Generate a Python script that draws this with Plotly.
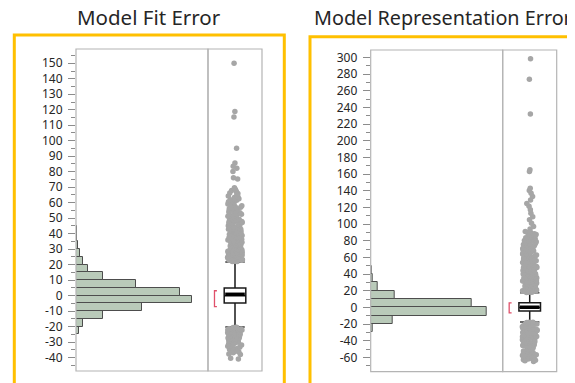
import plotly.graph_objects as go

# page body has an 8px margin; figure is sized/positioned to compensate
OFF = 8
W, H = 575 - OFF, 383 - OFF

# ---------------- data: Model Fit Error ----------------
fit_title = "Model Fit Error"
fit_bin_centers = [-27.5, -22.5, -17.5, -12.5, -7.5, -2.5, 2.5, 7.5, 12.5, 17.5, 22.5, 27.5, 32.5, 37.5, 42.5]
fit_counts = [2, 15, 37, 137, 328, 580, 522, 300, 137, 62, 37, 20, 12, 6, 3]
fit_q1, fit_median, fit_q3 = -4.7, 0.0, 5.0
fit_lower_whisker, fit_upper_whisker = -20.2, 21.7
fit_mean = 0.9
fit_shortest_half = [3.2, -7.1]
fit_outliers = [
    22.0, 22.2, 22.4, 22.6, 22.8, 23.0, 23.2, 23.4, 23.7, 23.9, 24.1, 24.3, 24.6, 24.8, 25.0, 25.3,
    25.5, 25.8, 26.0, 26.3, 26.5, 26.8, 27.0, 27.3, 27.6, 27.8, 28.1, 28.4, 28.7, 29.0, 29.3, 29.6,
    29.9, 30.2, 30.5, 30.8, 31.1, 31.4, 31.8, 32.1, 32.4, 32.8, 33.1, 33.5, 33.8, 34.2, 34.5, 34.9,
    35.3, 35.6, 36.0, 36.4, 36.8, 37.2, 37.6, 38.0, 38.4, 38.8, 39.2, 39.7, 40.1, 40.5, 41.0, 41.4,
    41.9, 42.3, 42.8, 43.2, 43.7, 44.2, 44.7, 45.2, 45.7, 46.2, 46.7, 47.2, 47.8, 48.3, 48.9, 49.4,
    50.0, 50.6, 51.2, 51.8, 52.4, 53.0, 53.6, 54.3, 54.9, 55.6, 56.3, 57.0, 57.7, 58.4, 59.2, 60.0,
    60.8, 61.6, 62.5, 63.4, 64.3, 65.3, 66.3, 67.3, 68.5, 69.7, 75.3, 76.1, 80.2, 82.3, 83.5, 85.6,
    95.2, 115.3, 118.8, 150.0,
    22.1, 22.5, 22.9, 23.3, 23.8, 24.2, 24.7, 25.1, 25.6, 26.1, 26.6, 27.1, 27.5, 28.0, 28.5, 29.1,
    29.6, 30.1, 30.6, 31.2, 31.7, 32.3, 32.9, 33.4, 34.0, 34.6, 35.2, 35.8, 36.5, 37.1, 37.8, 38.5,
    39.1, 39.9, 40.6, 41.3, 42.1, 42.9, 43.6, 44.5, 45.3, 46.1, 47.0, 47.9, 48.8, 49.7, 50.7, 51.6,
    52.6, 53.7, 54.7, 55.8, 56.9, 58.1, 59.4, 60.6, 61.9, 63.8, 65.9, 67.9,
    -20.4, -20.6, -20.9, -21.1, -21.4, -21.6, -21.9, -22.2, -22.4, -22.7, -23.0, -23.3, -23.6, -23.9,
    -24.2, -24.6, -24.9, -25.3, -25.6, -26.0, -26.4, -26.8, -27.2, -27.6, -28.1, -28.5, -29.0, -29.5,
    -30.0, -30.6, -31.2, -31.8, -32.5, -33.2, -34.0, -34.8, -35.4, -36.0, -36.8, -37.6, -40.3, -40.8,
    -20.5, -21.0, -21.5, -22.1, -22.6, -23.2, -23.8, -24.4, -25.1, -25.8, -26.5, -27.3, -28.0, -28.8,
    -29.7, -30.5, -31.5, -32.6, -33.9, -35.1, -36.4, -37.9,
]
fit_tick_values = [-40, -30, -20, -10, 0, 10, 20, 30, 40, 50, 60, 70, 80, 90, 100, 110, 120, 130, 140, 150]
fit_tick_labels = ["-40", "-30", "-20", "-10", "0", "10", "20", "30", "40", "50", "60", "70", "80",
                   "90", "100", "110", "120", "130", "140", "150"]
fit_minor_ticks = [-45, -35, -25, -15, -5, 5, 15, 25, 35, 45, 55, 65, 75, 85, 95, 105, 115, 125, 135, 145, 155]

# ---------------- data: Model Representation Error ----------------
rep_title = "Model Representation Error"
rep_bin_centers = [-25, -15, -5, 5, 15, 25, 35, 45]
rep_counts = [10, 108, 580, 505, 122, 33, 11, 5]
rep_q1, rep_median, rep_q3 = -4.3, 0.0, 5.6
rep_lower_whisker, rep_upper_whisker = -17.5, 17.5
rep_mean = 0.3
rep_shortest_half = [5.3, -6.7]
rep_outliers = [
    17.8, 18.3, 18.7, 19.3, 19.8, 20.2, 20.8, 21.3, 21.7, 22.3, 22.8, 23.2, 23.8, 24.3, 24.7, 25.3,
    25.8, 26.2, 26.8, 27.3, 27.7, 28.3, 28.8, 29.2, 29.8, 30.3, 30.7, 31.3, 31.8, 32.2, 32.8, 33.3,
    33.7, 34.3, 34.8, 35.2, 35.8, 36.3, 36.7, 37.3, 37.8, 38.2, 38.8, 39.3, 39.8,
    40.5, 41.2, 42.0, 42.9, 43.6, 44.4, 45.3, 46.0, 46.8, 47.7, 48.4, 49.2, 50.1, 50.9, 51.6, 52.5,
    53.3, 54.0, 54.9, 55.7, 56.4, 57.3, 58.1, 58.8, 59.7, 60.5, 61.2, 62.1, 62.9, 63.6, 64.5, 65.3,
    66.0, 66.9, 67.7, 68.4, 69.3, 70.1, 70.8, 71.7, 72.5, 73.2, 74.1, 74.9, 75.6, 76.5, 77.3, 78.0,
    78.9, 79.7, 80.4, 81.3, 82.1, 82.8, 83.7, 84.5, 85.2, 86.1, 86.9, 87.6, 88.5, 89.8, 91.0, 94.0,
    97.2, 101.0, 105.2, 108.8, 113.0, 117.1, 121.3, 124.8, 129.0, 133.2, 136.9, 140.3, 143.1, 163.0,
    165.2, 232.0, 273.7, 298.5,
    18.1, 19.0, 20.1, 21.0, 22.1, 23.0, 24.1, 25.0, 26.1, 27.0, 28.1, 29.0, 30.1, 31.0, 32.1, 33.0,
    34.1, 35.0, 36.1, 37.0, 38.1, 39.0, 40.1, 41.6, 43.2, 44.8, 46.3, 48.0, 49.6, 51.3, 52.8, 54.5,
    56.1, 57.7, 59.2, 60.9, 62.5, 64.1, 65.6, 67.3, 68.9, 70.5, 72.0, 73.7, 75.3, 76.9, 78.4, 80.1,
    81.7, 83.3, 84.8, 86.5, 88.1, 90.2,
    -17.8, -18.3, -18.8, -19.4, -19.9, -20.5, -21.0, -21.6, -22.1, -22.7, -23.2, -23.8, -24.3, -24.9,
    -25.4, -26.0, -26.6, -27.1, -27.7, -28.3, -28.8, -29.4, -30.0, -30.6, -31.1, -31.7, -32.3, -32.9,
    -33.5, -34.1, -34.7, -35.3, -35.9, -36.5, -37.1, -37.8, -38.4, -39.0, -39.7, -40.3, -41.0, -41.7,
    -42.4, -43.1, -43.8, -44.6, -45.4, -46.3, -47.3, -48.5, -50.0, -51.3, -52.4, -53.3, -54.1, -54.9,
    -55.6, -56.3, -57.0, -57.7, -58.4, -59.1, -59.8, -60.5, -61.3, -62.1, -63.0, -64.0, -65.0,
    -18.0, -19.1, -20.2, -21.3, -22.4, -23.5, -24.6, -25.7, -26.8, -28.0, -29.1, -30.2, -31.4, -32.6,
    -33.8, -35.0, -36.2, -37.4, -38.7, -40.0, -41.4, -42.8, -44.2, -45.8, -53.7, -55.3, -56.9, -58.6,
    -60.2, -61.8, -63.5,
]
rep_tick_values = [-60, -40, -20, 0, 20, 40, 60, 80, 100, 120, 140, 160, 180, 200, 220, 240, 260, 280, 300]
rep_tick_labels = ["-60", "-40", "-20", "0", "20", "40", "60", "80", "100", "120", "140", "160", "180",
                   "200", "220", "240", "260", "280", "300"]
rep_minor_ticks = [-70, -50, -30, -10, 10, 30, 50, 70, 90, 110, 130, 150, 170, 190, 210, 230, 250, 270, 290]

# ---------------- styles ----------------
FONT = "Noto Sans"
TXT = "#262626"
BAR = "#B9CAB9"
BAR_EDGE = "#4D4D4D"
FRAME = "#B4B4B4"
TICK = "#8C8C8C"
PT = "#A6A6A6"
RED = "#E0506A"
GOLD = "#FFC000"


def px(x):
    return (x - OFF) / W


def py(y):
    return 1 - (y - OFF) / H


fig = go.Figure()


def add_panel(xh, xb, ya, centers, counts, bw, q1, med, q3, lo, hi, mean, half, outliers):
    fig.add_trace(go.Bar(y=centers, x=counts, orientation="h", width=bw,
                         marker=dict(color=BAR, line=dict(color=BAR_EDGE, width=1)),
                         xaxis=xh, yaxis=ya, showlegend=False, hoverinfo="skip"))
    # whisker caps
    fig.add_trace(go.Box(x=[0, 0], q1=[hi, lo], median=[hi, lo], q3=[hi, lo],
                         lowerfence=[hi, lo], upperfence=[hi, lo], width=0.72,
                         fillcolor="rgba(0,0,0,0)", line=dict(color="#3A3A3A", width=1.5),
                         xaxis=xb, yaxis=ya, showlegend=False, hoverinfo="skip"))
    # box
    fig.add_trace(go.Box(x=[0], q1=[q1], median=[med], q3=[q3], lowerfence=[lo], upperfence=[hi],
                         width=0.8, fillcolor="white", line=dict(color="#1A1A1A", width=1.5),
                         xaxis=xb, yaxis=ya, showlegend=False, hoverinfo="skip"))
    # outlier points
    fig.add_trace(go.Box(y=outliers, x0=0, boxpoints="all", jitter=1, pointpos=0, width=0.55,
                         fillcolor="rgba(0,0,0,0)", line=dict(color="rgba(0,0,0,0)", width=0),
                         marker=dict(color=PT, size=5.5),
                         xaxis=xb, yaxis=ya, showlegend=False, hoverinfo="skip"))
    # mean bar
    fig.add_trace(go.Scatter(x=[0], y=[mean], mode="markers",
                             marker=dict(symbol="line-ew", size=14, line=dict(color="black", width=3.5)),
                             xaxis=xb, yaxis=ya, showlegend=False, hoverinfo="skip"))
    # shortest half bracket
    fig.add_trace(go.Scatter(x=[-0.67, -0.76, -0.76, -0.67], y=[half[0], half[0], half[1], half[1]],
                             mode="lines", line=dict(color=RED, width=1.3),
                             xaxis=xb, yaxis=ya, showlegend=False, hoverinfo="skip"))


add_panel("x", "x2", "y", fit_bin_centers, fit_counts, 5, fit_q1, fit_median, fit_q3,
          fit_lower_whisker, fit_upper_whisker, fit_mean, fit_shortest_half, fit_outliers)
add_panel("x3", "x4", "y2", rep_bin_centers, rep_counts, 10, rep_q1, rep_median, rep_q3,
          rep_lower_whisker, rep_upper_whisker, rep_mean, rep_shortest_half, rep_outliers)


def yax(domain, anchor, rng, vals, labels, minor):
    return dict(domain=domain, anchor=anchor, range=rng, tickmode="array", tickvals=vals, ticktext=labels,
                ticks="outside", ticklen=7, tickwidth=1, tickcolor=TICK, ticklabelstandoff=3,
                minor=dict(tickmode="array", tickvals=minor, ticks="outside", ticklen=4, tickcolor=TICK,
                           showgrid=False),
                showgrid=False, zeroline=False, showline=False,
                tickfont=dict(family=FONT, size=12, color=TXT), fixedrange=True)


def xax(domain, anchor, rng):
    return dict(domain=domain, anchor=anchor, range=rng, visible=False, fixedrange=True)


fig.update_layout(
    width=W, height=H, margin=dict(l=0, r=0, t=0, b=0),
    paper_bgcolor="white", plot_bgcolor="white",
    bargap=0, boxmode="overlay", showlegend=False,
    xaxis=xax([px(76), px(208)], "y", [0, 660]),
    xaxis2=xax([px(208), px(262)], "y", [-1, 1]),
    xaxis3=xax([px(370.7), px(502.7)], "y2", [0, 660]),
    xaxis4=xax([px(502.7), px(556.7)], "y2", [-1, 1]),
    yaxis=yax([py(371), py(49)], "x", [-48.6, 159.2], fit_tick_values, fit_tick_labels, fit_minor_ticks),
    yaxis2=yax([py(371.7), py(50)], "x3", [-77.2, 308.9], rep_tick_values, rep_tick_labels, rep_minor_ticks),
)

shapes = []
for xr, yr in [("x", "y"), ("x2", "y"), ("x3", "y2"), ("x4", "y2")]:
    shapes.append(dict(type="rect", xref=f"{xr} domain", yref=f"{yr} domain", x0=0, x1=1, y0=0, y1=1,
                       line=dict(color=FRAME, width=1.2), layer="above"))
shapes.append(dict(type="rect", xref="paper", yref="paper", x0=px(14.3), x1=px(284.3), y0=py(395), y1=py(35),
                   line=dict(color=GOLD, width=3)))
shapes.append(dict(type="rect", xref="paper", yref="paper", x0=px(310), x1=px(582), y0=py(395), y1=py(36.7),
                   line=dict(color=GOLD, width=3)))
fig.update_layout(shapes=shapes)

fig.add_annotation(text=fit_title, xref="paper", yref="paper", x=px(149), y=py(17), showarrow=False,
                   xanchor="center", yanchor="middle", font=dict(family=FONT, size=20.5, color=TXT))
fig.add_annotation(text=rep_title, xref="paper", yref="paper", x=px(574), y=py(17), showarrow=False,
                   xanchor="right", yanchor="middle", font=dict(family=FONT, size=19.8, color=TXT))

fig.write_html("out.html")
